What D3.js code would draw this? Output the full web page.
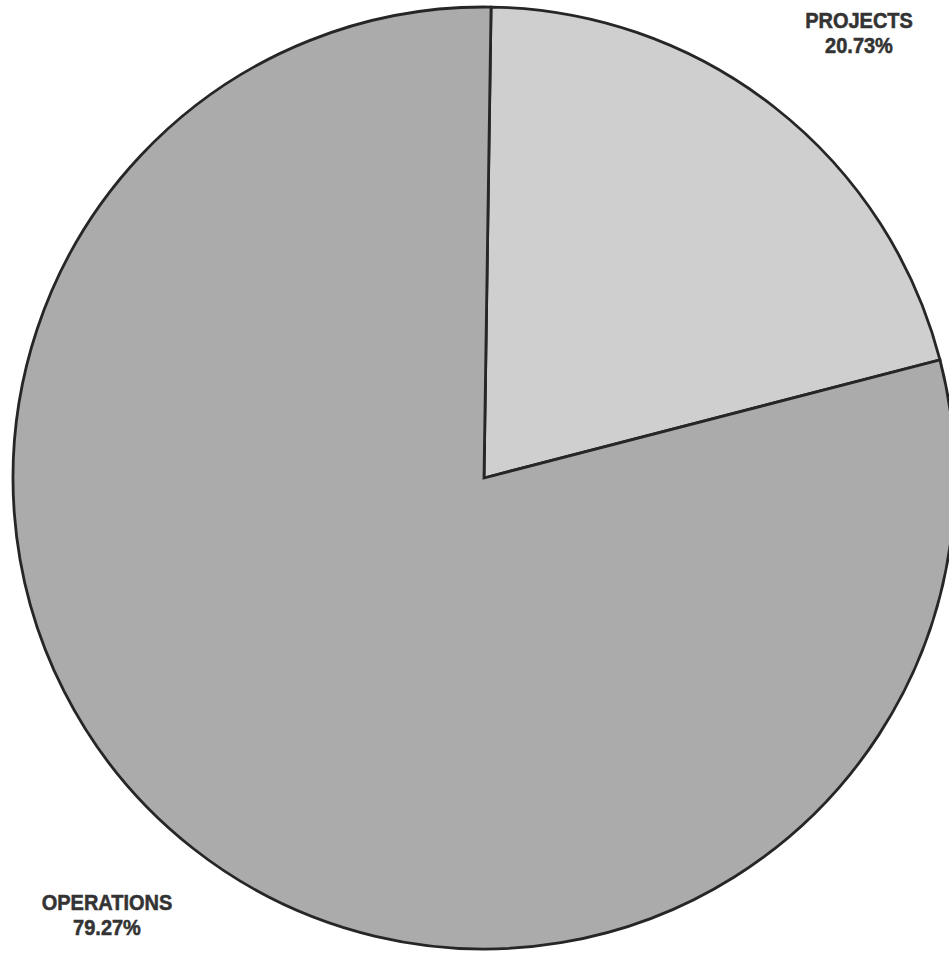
<!DOCTYPE html>
<html>
<head>
<meta charset="utf-8">
<script src="https://cdn.jsdelivr.net/npm/d3@7"></script>
<style>
  html, body { margin: 0; padding: 0; background: #ffffff; }
  svg { display: block; }
</style>
</head>
<body>
<svg id="chart" width="949" height="953"></svg>
<script>
// Budget split between the two spending categories
const categories = ["PROJECTS", "OPERATIONS"];
const shares = [20.73, 79.27];
const labels = ["20.73%", "79.27%"];
const fills = ["#cfcfcf", "#ababab"];

const svg = d3.select("#chart");
const cx = 484, cy = 478, radius = 471;
// First slice starts just past twelve o'clock
const startOffset = 0.015;

const data = categories.map((c, i) => ({ name: c, value: shares[i], label: labels[i], fill: fills[i] }));

const pie = d3.pie().value(d => d.value).sort(null)
  .startAngle(startOffset).endAngle(2 * Math.PI + startOffset);
const arc = d3.arc().innerRadius(0).outerRadius(radius);

const g = svg.append("g").attr("transform", `translate(${cx},${cy})`);
g.selectAll("path")
  .data(pie(data))
  .join("path")
  .attr("d", arc)
  .attr("fill", d => d.data.fill)
  .attr("stroke", "#262626")
  .attr("stroke-width", 2.8)
  .attr("stroke-linejoin", "miter");

// Category labels placed at the chart corners
const labelPos = { "PROJECTS": [859, 28], "OPERATIONS": [107, 910] };
data.forEach(d => {
  const [x, y] = labelPos[d.name];
  const t = svg.append("g")
    .attr("transform", `translate(${x},${y}) scale(1,1.12)`)
    .append("text")
    .attr("text-anchor", "middle")
    .attr("font-family", "'Liberation Sans', Arial, sans-serif")
    .attr("font-weight", "bold")
    .attr("font-size", 20)
    .attr("fill", "#333333")
    .attr("stroke", "#333333")
    .attr("stroke-width", 0.5);
  t.append("tspan").attr("x", 0).attr("y", 0).text(d.name);
  t.append("tspan").attr("x", 0).attr("y", 22.5).text(d.label);
});
</script>
</body>
</html>
